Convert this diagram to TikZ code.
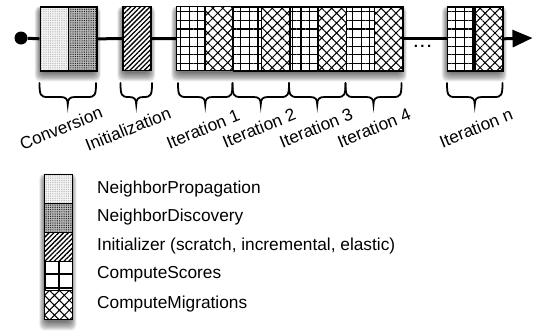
\documentclass[tikz,border=0pt]{standalone}
\usepackage{fontspec}
\setmainfont{Liberation Sans}
\usetikzlibrary{patterns.meta,arrows.meta}
\newcommand\softshadow[4]{%
  \foreach \sr in {0,...,7}{\fill[black,opacity=0.085,rounded corners=5pt] (#1+1-\sr*0.8, #2+3-\sr*0.4) rectangle (#3-1+\sr*0.8, #4+3+\sr*1.2);}}
\newcommand\mybrace[2]{%
  \pgfmathsetmacro\bm{(#1+#2)/2}%
  \draw[bracestyle] (#1,83) .. controls (#1,95) and (#1+1,97) .. (#1+8,97) -- (\bm-7,97) .. controls (\bm-2,97) and (\bm,99) .. (\bm,104.5) .. controls (\bm,99) and (\bm+2,97) .. (\bm+7,97) -- (#2-8,97) .. controls (#2-1,97) and (#2,95) .. (#2,83);}
\begin{document}
\begin{tikzpicture}[x=1pt,y=-1pt,
  box/.style={draw=black, line width=1.6pt, inner sep=0pt, minimum width=28.25pt, minimum height=64pt, anchor=north west},
  lbox/.style={draw=black, line width=1.4pt, inner sep=0pt, minimum width=27.7pt, minimum height=29.1pt, anchor=north west},
  npat/.style={preaction={fill=gray!8}, pattern={Dots[distance=1.8pt,radius=0.42pt]}, pattern color=gray!80},
  ndpat/.style={preaction={fill=gray!50}, pattern={Dots[distance=1.8pt,radius=0.5pt]}, pattern color=black},
  inpat/.style={preaction={fill=white}, pattern={Lines[angle=45,distance=3.4pt,line width=1.3pt]}, pattern color=black},
  cspat/.style={preaction={fill=white}, pattern={Hatch[angle=0,distance=8.6pt,line width=1.2pt]}, pattern color=black},
  lcspat/.style={preaction={fill=white}, pattern={Hatch[angle=0,distance=14pt,line width=1.2pt,xshift=-11pt]}, pattern color=black},
  cmpat/.style={preaction={fill=white}, pattern={Hatch[angle=45,distance=7pt,line width=1pt]}, pattern color=black},
  mainline/.style={line width=3pt, draw=black},
  bracestyle/.style={line width=1.8pt, draw=black, line cap=round},
  lab/.style={inner sep=0pt, rotate=22, font=\fontsize{17.3}{17.3}\selectfont},
  legtext/.style={inner sep=0pt, anchor=base west, font=\fontsize{17.3}{17.3}\selectfont}
]
\useasboundingbox (0,0) rectangle (541,330);
\fill[white] (0,0) rectangle (541,330);
% shadows
\softshadow{39.5}{6}{96}{70}
\softshadow{122}{6}{150.5}{70}
\softshadow{176}{6}{402}{70}
\softshadow{446.5}{6}{502}{70}
\softshadow{44}{173.5}{71.7}{319}
% boxes
\node[box,npat] (conva) at (39.5,6) {};
\node[box,ndpat] (convb) at (67.75,6) {};
\node[box,inpat] (init) at (122.25,6) {};
\node[box,cspat] (itA1) at (176,6) {};
\node[box,cmpat] (itB1) at (204.25,6) {};
\node[box,cspat] (itA2) at (232.5,6) {};
\node[box,cmpat] (itB2) at (260.75,6) {};
\node[box,cspat] (itA3) at (289,6) {};
\node[box,cmpat] (itB3) at (317.25,6) {};
\node[box,cspat] (itA4) at (345.5,6) {};
\node[box,cmpat] (itB4) at (373.75,6) {};
\node[box,cspat,minimum width=27.75pt] (itAn) at (446.5,6) {};
\node[box,cmpat,minimum width=27.75pt] (itBn) at (474.25,6) {};
% line
\node[circle, fill=black, minimum size=13pt, inner sep=0pt] (start) at (21,38) {};
\coordinate (tip) at (532.5,38);
\draw[mainline] (start) -- (conva.west);
\draw[mainline] (convb.east) -- (init.west);
\draw[mainline] (init.east) -- (itA1.west);
\draw[mainline] (itB4.east) -- (itAn.west);
\draw[mainline,-{Triangle[length=20pt,width=17pt]}] (itBn.east) -- (tip);
\node[inner sep=0pt, anchor=base, font=\fontsize{15}{15}\selectfont\bfseries] (dots) at (422.5,47) {.\,.\,.};
% braces
\mybrace{39.5}{96}
\mybrace{120.5}{152}
\mybrace{178}{232.5}
\mybrace{232.5}{289}
\mybrace{289}{345.5}
\mybrace{345.5}{401.5}
\mybrace{447}{502.5}
% labels
\node[lab] (lconv) at (61,128) {Conversion};
\node[lab] (linit) at (128,129) {Initialization};
\node[lab] (lit1) at (203,129) {Iteration 1};
\node[lab] (lit2) at (259,128) {Iteration 2};
\node[lab] (lit3) at (316,128) {Iteration 3};
\node[lab] (lit4) at (374,128) {Iteration 4};
\node[lab] (litn) at (476,128) {Iteration n};
% legend
\node[lbox,npat] (k1) at (44,173.5) {};
\node[lbox,ndpat] (k2) at (44,202.6) {};
\node[lbox,inpat] (k3) at (44,231.7) {};
\node[lbox,lcspat] (k4) at (44,260.8) {};
\node[lbox,cmpat] (k5) at (44,289.9) {};
\node[legtext] (t1) at (97,193.3) {NeighborPropagation};
\node[legtext] (t2) at (97,221.7) {NeighborDiscovery};
\node[legtext] (t3) at (97,250) {Initializer (scratch, incremental, elastic)};
\node[legtext] (t4) at (97,278.3) {ComputeScores};
\node[legtext] (t5) at (97,308.3) {ComputeMigrations};
\end{tikzpicture}
\end{document}
